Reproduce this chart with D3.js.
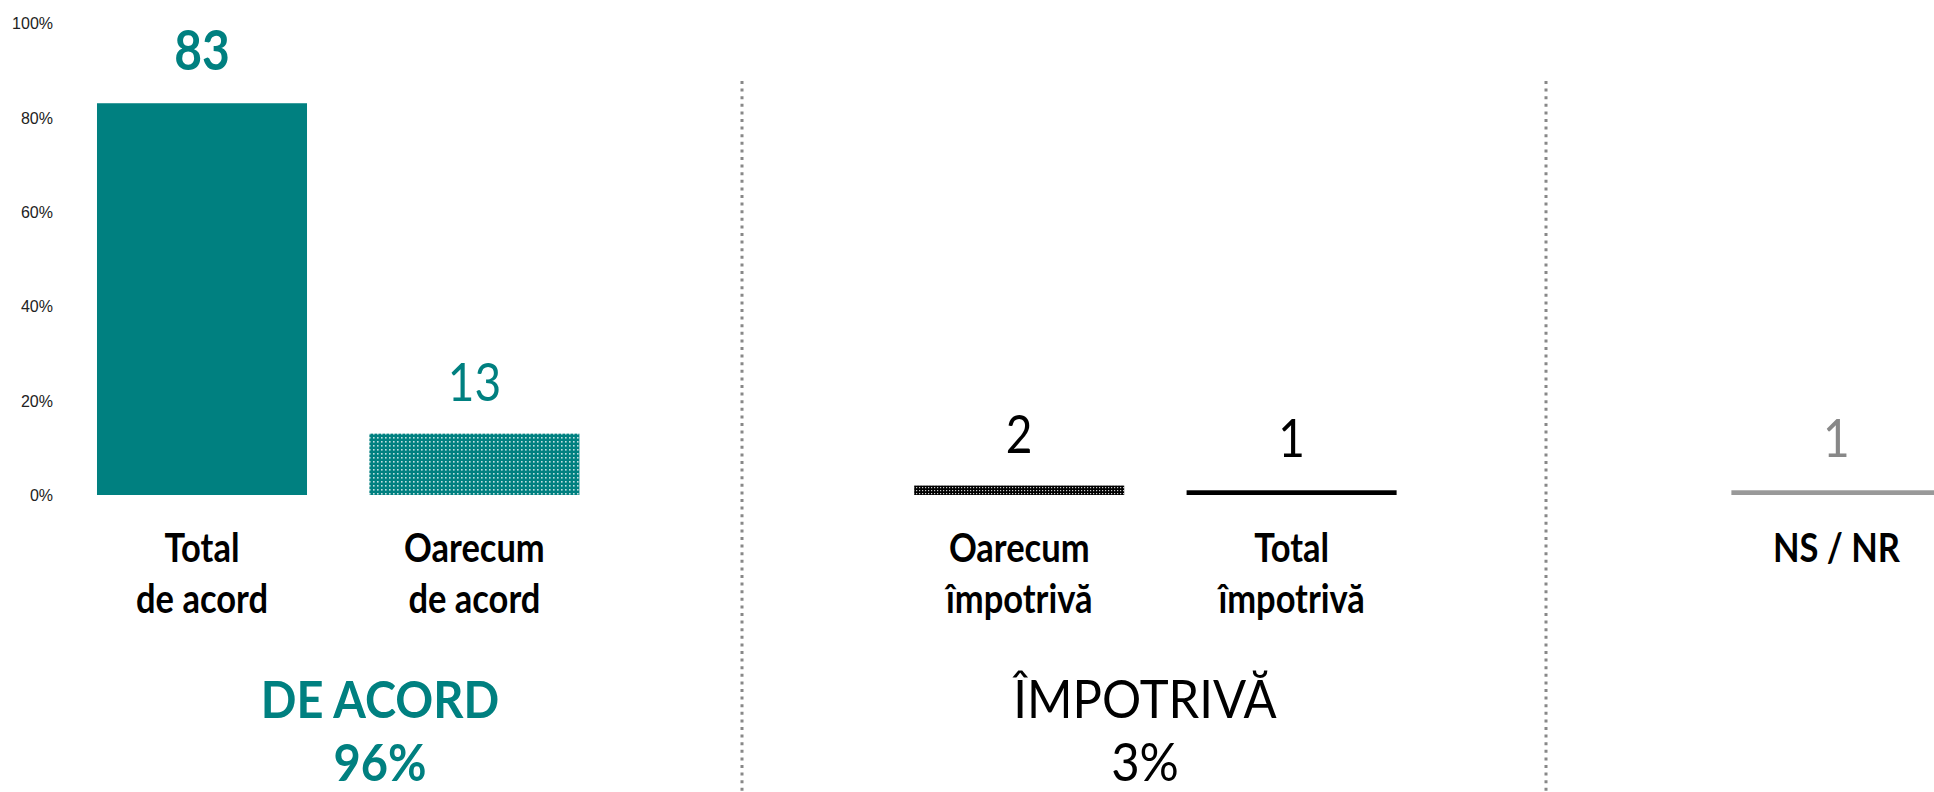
<!DOCTYPE html>
<html>
<head>
<meta charset="utf-8">
<script src="https://cdn.jsdelivr.net/npm/d3@7"></script>
<style>
  html, body { margin: 0; padding: 0; background: #fff; }
  svg { display: block; }
</style>
</head>
<body>
<svg id="chart" width="1934" height="792"></svg>
<script>
// ---- data ----
const categories = ["Total\nde acord", "Oarecum\n de acord", "sep1", "Oarecum\nîmpotrivă", "Total\nîmpotrivă", "sep2", "NS / NR"];
const values = [83, 13, null, 2, 1, null, 1];
const barStyles = ["solidTeal", "dotTeal", null, "dotBlack", "solidBlack", null, "solidGray"];
const labelStyles = ["boldTeal", "teal", null, "black", "black", null, "gray"];
const tickValues = [0, 20, 40, 60, 80, 100];
const tickLabels = ["0%", "20%", "40%", "60%", "80%", "100%"];
const groupTitles = ["DE ACORD", "ÎMPOTRIVĂ"];
const groupTotals = ["96%", "3%"];

// ---- layout ----
const W = 1934, H = 792;
const TEAL = "#008080";
const FONT = "Lato, 'Open Sans', sans-serif";
const SY = 1.15; // vertical stretch of text as in reference

const svg = d3.select("#chart");
const defs = svg.append("defs");

// patterns
const p1 = defs.append("pattern").attr("id", "dotTeal").attr("patternUnits", "userSpaceOnUse")
  .attr("width", 4).attr("height", 4);
p1.append("rect").attr("width", 4).attr("height", 4).attr("fill", TEAL);
p1.append("rect").attr("x", 1).attr("y", 1).attr("width", 1.6).attr("height", 1.6).attr("fill", "#fff").attr("opacity", 0.75);

const p2 = defs.append("pattern").attr("id", "dotBlack").attr("patternUnits", "userSpaceOnUse")
  .attr("width", 3).attr("height", 3);
p2.append("rect").attr("width", 3).attr("height", 3).attr("fill", "#000");
p2.append("rect").attr("x", 1).attr("y", 1).attr("width", 1.2).attr("height", 1.2).attr("fill", "#fff").attr("opacity", 0.8);

const fills = {
  solidTeal: TEAL,
  dotTeal: "url(#dotTeal)",
  dotBlack: "url(#dotBlack)",
  solidBlack: "#000",
  solidGray: "#999999"
};
const labelColor = { boldTeal: TEAL, teal: TEAL, black: "#000", gray: "#888888" };

const x = d3.scaleBand().domain(categories).range([65.8, 1972.6])
  .paddingInner(0.229).paddingOuter(0.1145);
const y = d3.scaleLinear().domain([0, 100]).range([495, 23]);

// y axis
const yAxis = d3.axisLeft(y).tickValues(tickValues).tickFormat((d, i) => tickLabels[i]).tickSize(0).tickPadding(0);
const gy = svg.append("g").attr("transform", "translate(53,0)").call(yAxis);
gy.select(".domain").remove();
gy.selectAll("text").attr("font-family", "'Liberation Sans', Arial, sans-serif")
  .attr("font-size", 16).attr("fill", "#222").attr("dy", "0.35em");

// separators
const sepX = [742, 1546];
svg.selectAll("line.sep").data(sepX).enter().append("line")
  .attr("class", "sep")
  .attr("x1", d => d).attr("x2", d => d)
  .attr("y1", 81).attr("y2", H)
  .attr("stroke", "#888").attr("stroke-width", 3).attr("stroke-dasharray", "3 4.6");

const data = categories.map((c, i) => ({ c, v: values[i], s: barStyles[i], l: labelStyles[i] }))
  .filter(d => d.v !== null);

// bars
svg.selectAll("rect.bar").data(data).enter().append("rect")
  .attr("class", "bar")
  .attr("x", d => x(d.c)).attr("width", x.bandwidth())
  .attr("y", d => y(d.v)).attr("height", d => y(0) - y(d.v))
  .attr("fill", d => fills[d.s]);

// value labels
function stretchedText(sel, tx, ty, sy) {
  return sel.append("g").attr("transform", `translate(${tx},${ty}) scale(1,${sy || SY})`).append("text")
    .attr("text-anchor", "middle").attr("font-family", FONT);
}
data.forEach(d => {
  const bold = d.l === "boldTeal";
  stretchedText(svg, x(d.c) + x.bandwidth() / 2, y(d.v) - 33)
    .attr("font-size", bold ? 48 : 46)
    .attr("font-weight", bold ? 700 : 400)
    .attr("fill", labelColor[d.l])
    .text(d.v);
});

// category labels
data.forEach(d => {
  const lines = d.c.split("\n");
  lines.forEach((ln, k) => {
    stretchedText(svg, x(d.c) + x.bandwidth() / 2, 562 + k * 51)
      .attr("font-size", 34.5).attr("font-weight", 700).attr("fill", "#000")
      .text(ln.trim());
  });
});

// group titles
const groupX = [380, 1145];
const groupWeight = [700, 400];
const groupSize = [47, 49];
const groupColor = [TEAL, "#000"];
groupTitles.forEach((t, i) => {
  stretchedText(svg, groupX[i], 718, 1.08).attr("font-size", groupSize[i]).attr("font-weight", groupWeight[i])
    .attr("fill", groupColor[i]).text(t);
  stretchedText(svg, groupX[i], 781, 1.08).attr("font-size", groupSize[i]).attr("font-weight", groupWeight[i])
    .attr("fill", groupColor[i]).text(groupTotals[i]);
});
</script>
</body>
</html>
